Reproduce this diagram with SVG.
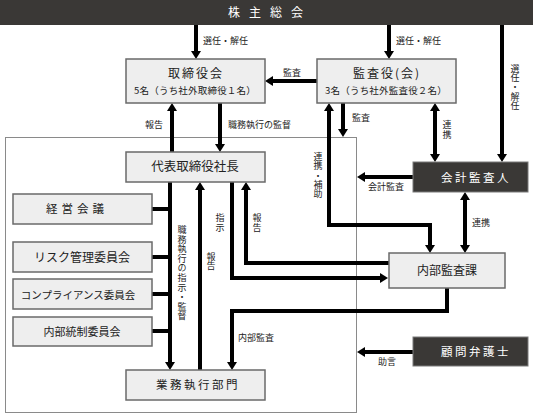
<svg xmlns="http://www.w3.org/2000/svg" width="533" height="414" viewBox="0 0 533 414">
<style>
.box{fill:#eeeeee;stroke:#6a6a6a;stroke-width:1.5}
.dark{fill:#3a3836;stroke:#7a7a7a;stroke-width:1}
.nt{font-family:"Noto Sans CJK JP","Noto Sans",sans-serif;font-size:12px;fill:#222;text-anchor:middle}
.wt{font-family:"Noto Sans CJK JP","Noto Sans",sans-serif;font-size:12px;fill:#fff;text-anchor:middle}
.lb{font-family:"Noto Sans CJK JP","Noto Sans",sans-serif;font-size:9px;fill:#222}
.vl{font-family:"Noto Sans CJK JP","Noto Sans",sans-serif;font-size:9px;fill:#222;writing-mode:vertical-rl;text-anchor:start}
.ln{fill:none;stroke:#000;stroke-width:4}
.a{marker-end:url(#ah)}
.aa{marker-end:url(#ah);marker-start:url(#ah)}
</style>
<defs>
<marker id="ah" viewBox="0 0 8 10" markerUnits="userSpaceOnUse" markerWidth="8" markerHeight="10" refX="2" refY="5" orient="auto-start-reverse">
<path d="M0,0 L8,5 L0,10 z" fill="#000"/>
</marker>
</defs>

<rect x="5.5" y="137.5" width="351" height="275" fill="none" stroke="#8a8a8a" stroke-width="1"/>

<g id="connectors">
<path class="ln a" d="M196 25 V53"/>
<path class="ln a" d="M389 25 V53"/>
<path class="ln a" d="M502 25 V156"/>
<path class="ln a" d="M317 81 H271"/>
<path class="ln a" d="M172 152 V109"/>
<path class="ln a" d="M220 103 V146"/>
<path class="ln a" d="M343 103 V131"/>
<path class="ln aa" d="M435 109 V156"/>
<path class="ln aa" d="M329 109 V225 H430 V247"/>
<path class="ln a" d="M413 177 H363"/>
<path class="ln aa" d="M465 198 V247"/>
<path class="ln a" d="M413 352 H363"/>
<path class="ln a" d="M170 182 V364"/>
<path class="ln" d="M152 209 H170 M152 257 H170 M152 294 H170 M152 331 H170"/>
<path class="ln a" d="M200 370 V188"/>
<path class="ln a" d="M232 182 V278 H382"/>
<path class="ln a" d="M389 263 H246 V188"/>
<path class="ln a" d="M447 288 V311 H232 V364"/>
</g>

<g id="shareholders">
<rect x="0" y="0" width="533" height="25" fill="#3a3836"/>
<text class="wt" x="270" y="17" style="letter-spacing:9px">株主総会</text>
</g>

<g id="board">
<rect class="box" x="126" y="59" width="139" height="44"/>
<text class="nt" x="196" y="78" style="letter-spacing:2px">取締役会</text>
<text class="nt" x="195" y="94" style="font-size:9.5px;letter-spacing:0.2px">5名（うち社外取締役１名）</text>
</g>

<g id="auditors">
<rect class="box" x="317" y="59" width="139" height="44"/>
<text class="nt" x="387" y="78" style="letter-spacing:2px">監査役(会)</text>
<text class="nt" x="386" y="94" style="font-size:9.5px;letter-spacing:0.2px">3名（うち社外監査役２名）</text>
</g>

<g id="president">
<rect class="box" x="126" y="152" width="139" height="30"/>
<text class="nt" x="195" y="171" style="font-size:12.5px">代表取締役社長</text>
</g>

<g id="keiei">
<rect class="box" x="13" y="194" width="139" height="30"/>
<text class="nt" x="77" y="213" style="font-size:11.5px;letter-spacing:4px">経営会議</text>
</g>
<g id="risk">
<rect class="box" x="13" y="242" width="139" height="30"/>
<text class="nt" x="82" y="262">リスク管理委員会</text>
</g>
<g id="compliance">
<rect class="box" x="13" y="279" width="139" height="30"/>
<text class="nt" x="78" y="298.5" style="font-size:10.5px">コンプライアンス委員会</text>
</g>
<g id="internal-control">
<rect class="box" x="13" y="317" width="139" height="29"/>
<text class="nt" x="82" y="336" style="font-size:11px">内部統制委員会</text>
</g>

<g id="operations">
<rect class="box" x="126" y="370" width="139" height="30"/>
<text class="nt" x="198" y="389" style="font-size:11.5px;letter-spacing:2.5px">業務執行部門</text>
</g>

<g id="internal-audit">
<rect class="box" x="389" y="253" width="116" height="35"/>
<text class="nt" x="447" y="275">内部監査課</text>
</g>

<g id="accounting-auditor">
<rect class="dark" x="413" y="162" width="115" height="30"/>
<text class="wt" x="476" y="181.5" style="font-size:11.5px;letter-spacing:2.5px">会計監査人</text>
</g>

<g id="lawyer">
<rect class="dark" x="413" y="337" width="115" height="29"/>
<text class="wt" x="476" y="356" style="font-size:11.5px;letter-spacing:2.5px">顧問弁護士</text>
</g>

<g id="labels">
<text class="lb" x="203" y="44">選任・解任</text>
<text class="lb" x="396" y="44">選任・解任</text>
<text class="lb" x="283" y="76">監査</text>
<text class="lb" x="145" y="128">報告</text>
<text class="lb" x="228" y="128">職務執行の監督</text>
<text class="lb" x="352" y="121">監査</text>
<text class="lb" x="368" y="190">会計監査</text>
<text class="lb" x="472" y="226">連携</text>
<text class="lb" x="378" y="365">助言</text>
<text class="lb" x="238" y="341">内部監査</text>
<text class="vl" x="515" y="64" style="letter-spacing:0.2px">選任・解任</text>
<text class="vl" x="447" y="120" style="letter-spacing:1px">連携</text>
<text class="vl" x="318" y="152" style="letter-spacing:0.3px">連携・補助</text>
<text class="vl" x="182" y="225" style="letter-spacing:0.6px">職務執行の指示・監督</text>
<text class="vl" x="211" y="252">報告</text>
<text class="vl" x="220" y="213" style="letter-spacing:1px">指示</text>
<text class="vl" x="257" y="213" style="letter-spacing:1px">報告</text>
</g>
</svg>
